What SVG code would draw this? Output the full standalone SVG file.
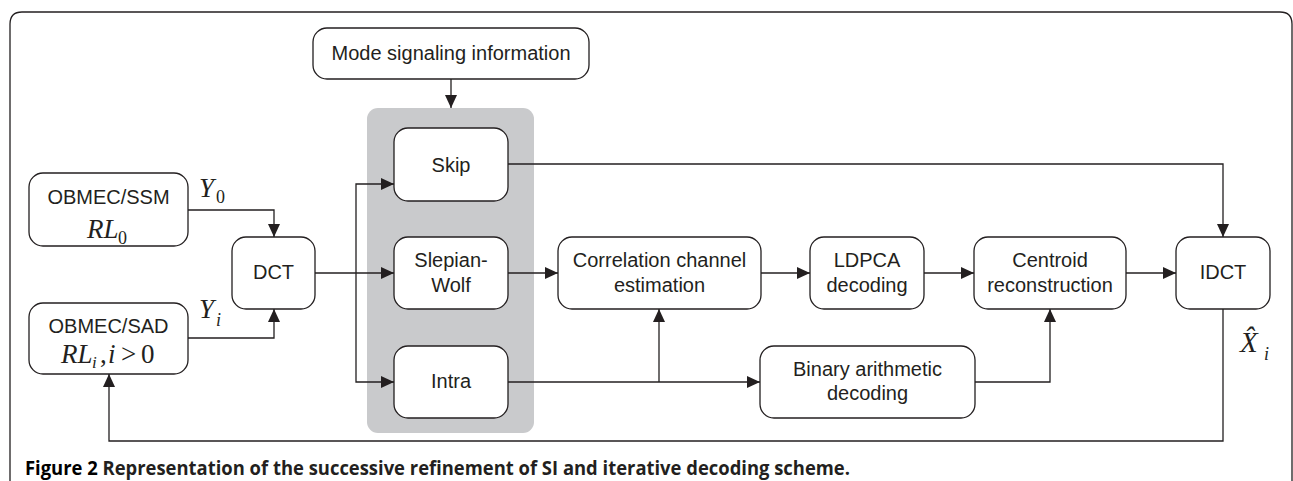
<svg xmlns="http://www.w3.org/2000/svg" width="1293" height="481" viewBox="0 0 1293 481">
  <style>
    .box { fill: #ffffff; stroke: #231f20; stroke-width: 1.3; }
    .lbl { font-family: "Liberation Sans", Arial, sans-serif; font-size: 20px; fill: #231f20; text-anchor: middle; }
    .math { font-family: "Liberation Serif", "Times New Roman", serif; fill: #231f20; }
    .it { font-style: italic; }
    .wire { fill: none; stroke: #231f20; stroke-width: 1.3; }
    .cap { font-family: "Open Sans", "Noto Sans", sans-serif; font-weight: bold; font-size: 19.5px; }
  </style>
  <defs>
    <marker id="arrow" markerUnits="userSpaceOnUse" markerWidth="14" markerHeight="14" viewBox="0 0 14 14" refX="13" refY="7" orient="auto">
      <path d="M0,1 L13,7 L0,13 Z" fill="#231f20"/>
    </marker>
  </defs>

  <rect width="1293" height="481" fill="#ffffff"/>

  <!-- figure frame -->
  <path d="M10,481 V24 Q10,12 22,12 H1280 Q1292,12 1292,24 V481" fill="none" stroke="#231f20" stroke-width="1.3"/>

  <!-- mode selection panel -->
  <rect id="mode-panel" x="367" y="108" width="167" height="325" rx="11" fill="#c9cacc"/>

  <g id="mode-info">
    <rect class="box" x="313" y="28" width="276" height="51" rx="14"/>
    <text class="lbl" x="451" y="60">Mode signaling information</text>
  </g>

  <g id="obmec-ssm">
    <rect class="box" x="29" y="173" width="159" height="73" rx="14"/>
    <text class="lbl" x="108.5" y="204">OBMEC/SSM</text>
    <text class="math it" x="87" y="238" font-size="27">RL</text>
    <text class="math" x="118" y="244" font-size="18">0</text>
  </g>

  <g id="obmec-sad">
    <rect class="box" x="29" y="303" width="159" height="71" rx="14"/>
    <text class="lbl" x="108.5" y="333">OBMEC/SAD</text>
    <text class="math it" x="61" y="363" font-size="27">RL</text>
    <text class="math it" x="92" y="368" font-size="17">i</text>
    <text class="math" x="100" y="363" font-size="27">,</text>
    <text class="math it" x="108" y="363" font-size="27">i</text>
    <text class="math" x="121" y="363" font-size="27">&gt;</text>
    <text class="math" x="141" y="363" font-size="27">0</text>
  </g>

  <g id="dct">
    <rect class="box" x="232" y="237" width="83" height="72" rx="14"/>
    <text class="lbl" x="273.5" y="279">DCT</text>
  </g>

  <g id="skip">
    <rect class="box" x="394" y="128" width="114" height="73" rx="14"/>
    <text class="lbl" x="451" y="172">Skip</text>
  </g>

  <g id="slepian-wolf">
    <rect class="box" x="394" y="237" width="114" height="72" rx="14"/>
    <text class="lbl" x="451" y="267">Slepian-</text>
    <text class="lbl" x="451" y="292">Wolf</text>
  </g>

  <g id="intra">
    <rect class="box" x="394" y="346" width="114" height="72" rx="14"/>
    <text class="lbl" x="451" y="388">Intra</text>
  </g>

  <g id="correlation">
    <rect class="box" x="558" y="237" width="203" height="72" rx="14"/>
    <text class="lbl" x="659.5" y="267">Correlation channel</text>
    <text class="lbl" x="659.5" y="292">estimation</text>
  </g>

  <g id="ldpca">
    <rect class="box" x="810" y="237" width="114" height="72" rx="14"/>
    <text class="lbl" x="867" y="267">LDPCA</text>
    <text class="lbl" x="867" y="292">decoding</text>
  </g>

  <g id="binary">
    <rect class="box" x="760" y="346" width="215" height="72" rx="14"/>
    <text class="lbl" x="867.5" y="376">Binary arithmetic</text>
    <text class="lbl" x="867.5" y="400">decoding</text>
  </g>

  <g id="centroid">
    <rect class="box" x="974" y="237" width="152" height="72" rx="14"/>
    <text class="lbl" x="1050" y="267">Centroid</text>
    <text class="lbl" x="1050" y="292">reconstruction</text>
  </g>

  <g id="idct">
    <rect class="box" x="1176" y="237" width="94" height="72" rx="14"/>
    <text class="lbl" x="1223" y="279">IDCT</text>
  </g>

  <!-- connectors -->
  <g id="connectors">
    <path class="wire" d="M451,79 V108" marker-end="url(#arrow)"/>
    <path class="wire" d="M188,210 H274 V237" marker-end="url(#arrow)"/>
    <path class="wire" d="M188,338 H274 V309" marker-end="url(#arrow)"/>
    <path class="wire" d="M315,273 H394" marker-end="url(#arrow)"/>
    <path class="wire" d="M356,273 V184 H394" marker-end="url(#arrow)"/>
    <path class="wire" d="M356,273 V382 H394" marker-end="url(#arrow)"/>
    <path class="wire" d="M508,273 H558" marker-end="url(#arrow)"/>
    <path class="wire" d="M761,273 H810" marker-end="url(#arrow)"/>
    <path class="wire" d="M924,273 H974" marker-end="url(#arrow)"/>
    <path class="wire" d="M1126,273 H1176" marker-end="url(#arrow)"/>
    <path class="wire" d="M508,164 H1223 V237" marker-end="url(#arrow)"/>
    <path class="wire" d="M508,382 H760" marker-end="url(#arrow)"/>
    <path class="wire" d="M659,382 V309" marker-end="url(#arrow)"/>
    <path class="wire" d="M975,382 H1050 V309" marker-end="url(#arrow)"/>
    <path class="wire" d="M1223,309 V441 H109 V374" marker-end="url(#arrow)"/>
  </g>

  <!-- signal labels -->
  <g id="labels">
    <text class="math it" x="199" y="197" font-size="27">Y</text>
    <text class="math" x="216" y="203" font-size="18">0</text>
    <text class="math it" x="199" y="318" font-size="27">Y</text>
    <text class="math it" x="216" y="326" font-size="18">i</text>
    <text class="math it" x="1240" y="352" font-size="29">X&#770;</text>
    <text class="math it" x="1264" y="360" font-size="18">i</text>
  </g>

  <!-- caption -->
  <text class="cap" x="25" y="475" textLength="825" lengthAdjust="spacingAndGlyphs"><tspan fill="#000000">Figure 2</tspan><tspan fill="#231f20"> Representation of the successive refinement of SI and iterative decoding scheme.</tspan></text>
</svg>
